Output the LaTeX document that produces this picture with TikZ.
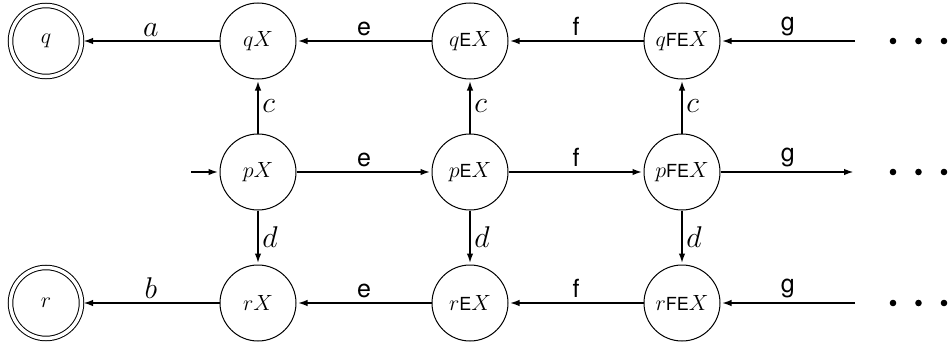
\RequirePackage{fix-cm}
\documentclass[tikz,border=0pt]{standalone}
\usepackage{fontspec}
\newfontfamily\hel{TeX Gyre Heros}
\usetikzlibrary{arrows.meta}
\newcommand{\sfl}[1]{\mbox{\fontsize{18}{18}\hel #1}}
\begin{document}
\begin{tikzpicture}[x=1pt,y=-1pt,
  st/.style={circle,draw,line width=1pt,minimum size=76pt,inner sep=0pt,font=\fontsize{22}{22}\selectfont},
  acc/.style={circle,draw,line width=1pt,double,double distance=3.5pt,minimum size=71pt,inner sep=0pt,font=\fontsize{22}{22}\selectfont},
  ar/.style={line width=2.6pt,-{Latex[length=10pt,width=6.5pt]},shorten >=1pt},
  lab/.style={font=\fontsize{30}{30}\selectfont,inner sep=3pt},
  slab/.style={font=\fontsize{25}{25}\selectfont\hel,inner sep=4pt},
  dot/.style={circle,fill=black,minimum size=6.6pt,inner sep=0pt}]
\useasboundingbox (0,0) rectangle (951,348);
% states
\node[acc] (q) at (46,41) {$q$};
\node[st] (qX) at (258,41) {$qX$};
\node[st] (qEX) at (470,41) {$q\sfl{E}X$};
\node[st] (qFEX) at (682,41) {$q\sfl{FE}X$};
\node[st] (pX) at (258,172) {$pX$};
\node[st] (pEX) at (470,172) {$p\sfl{E}X$};
\node[st] (pFEX) at (682,172) {$p\sfl{FE}X$};
\node[acc] (r) at (46,303) {$r$};
\node[st] (rX) at (258,303) {$rX$};
\node[st] (rEX) at (470,303) {$r\sfl{E}X$};
\node[st] (rFEX) at (682,303) {$r\sfl{FE}X$};
% free ends
\coordinate (gq) at (855,41);
\coordinate (gp) at (855,172);
\coordinate (gr) at (855,303);
\coordinate (start) at (191,172);
% dots
\foreach \y/\n in {41/q,172/p,303/r}{
  \node[dot] (d1\n) at (893,\y) {};
  \node[dot] (d2\n) at (918.5,\y) {};
  \node[dot] (d3\n) at (944,\y) {};
}
% top row
\draw[ar] (qX) -- node[lab,above]{$a$} (q);
\draw[ar] (qEX) -- node[slab,above]{e} (qX);
\draw[ar] (qFEX) -- node[slab,above]{f} (qEX);
\draw[ar] (gq) -- node[slab,above]{g} (qFEX);
% middle row
\draw[ar] (start) -- (pX);
\draw[ar] (pX) -- node[slab,above]{e} (pEX);
\draw[ar] (pEX) -- node[slab,above]{f} (pFEX);
\draw[ar] (pFEX) -- node[slab,above]{g} (gp);
% bottom row
\draw[ar] (rX) -- node[lab,above]{$b$} (r);
\draw[ar] (rEX) -- node[slab,above]{e} (rX);
\draw[ar] (rFEX) -- node[slab,above]{f} (rEX);
\draw[ar] (gr) -- node[slab,above]{g} (rFEX);
% verticals
\draw[ar] (pX) -- node[lab,right]{$c$} (qX);
\draw[ar] (pEX) -- node[lab,right]{$c$} (qEX);
\draw[ar] (pFEX) -- node[lab,right]{$c$} (qFEX);
\draw[ar] (pX) -- node[lab,right]{$d$} (rX);
\draw[ar] (pEX) -- node[lab,right]{$d$} (rEX);
\draw[ar] (pFEX) -- node[lab,right]{$d$} (rFEX);
\end{tikzpicture}
\end{document}
